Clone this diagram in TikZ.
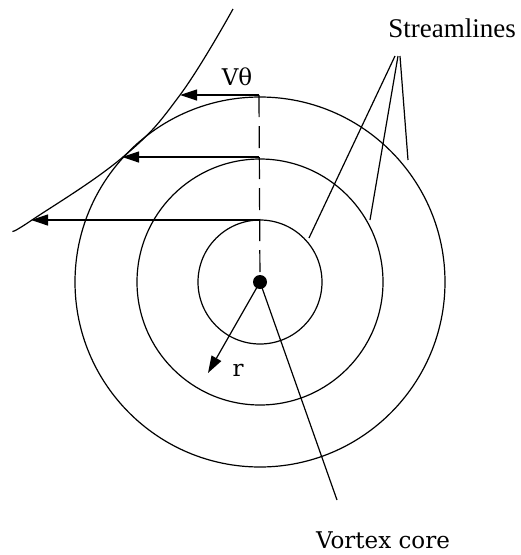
\documentclass[tikz,border=0pt]{standalone}
\usepackage{fontspec}
\setmainfont{Liberation Serif}
\newfontfamily\djserif{DejaVu Serif}
\usetikzlibrary{arrows.meta}
\begin{document}
\begin{tikzpicture}[x=1pt,y=-1pt,
  ln/.style={line width=1.2pt,black},
  arr/.style={ln,-{Triangle[length=17pt,width=11pt]}},
  lbl/.style={font=\fontsize{27}{30}\selectfont,inner sep=0pt},
  lbl2/.style={font=\djserif\fontsize{23}{28}\selectfont,inner sep=0pt}]
\useasboundingbox (0,0) rectangle (521,555);
% centre and circles
\coordinate (c) at (260,282);
\draw[ln] (c) circle[radius=62];
\draw[ln] (c) circle[radius=123];
\draw[ln] (c) circle[radius=185];
% dashed vertical
\coordinate (top) at (259,95);
\draw[ln,dash pattern=on 22pt off 9pt] (top) -- (c);
% velocity arrows
\coordinate (a1s) at (259,95);  \coordinate (a1e) at (180,95);
\coordinate (a2s) at (259,157); \coordinate (a2e) at (122,157);
\coordinate (a3s) at (259,220); \coordinate (a3e) at (31,220);
\draw[arr] (a1s) -- (a1e);
\draw[arr] (a2s) -- (a2e);
\draw[arr] (a3s) -- (a3e);
% envelope curve
\draw[ln] plot[smooth,tension=0.7] coordinates {(233,9) (180,95) (123,157) (32,220) (13,231)};
% core dot
\fill (c) circle[radius=7];
\node[lbl2] (ve) at (237,77) {Vθ};
% r arrow
\coordinate (rt) at (208,373);
\draw[arr] (c) -- (rt);
\node[lbl2] (r) at (238,370) {r};
% streamlines
\node[lbl] (sl) at (452,28) {Streamlines};
\coordinate (ap1) at (395,56);
\coordinate (ap2) at (398,56);
\coordinate (ap3) at (400,56);
\coordinate (s1) at (309,238);
\coordinate (s2) at (370,220);
\coordinate (s3) at (408,160);
\draw[ln] (ap1) -- (s1);
\draw[ln] (ap2) -- (s2);
\draw[ln] (ap3) -- (s3);
% vortex core
\coordinate (ve2) at (337,500);
\draw[ln] (c) -- (ve2);
\node[lbl2] (vc) at (383,540) {Vortex core};
\end{tikzpicture}
\end{document}
